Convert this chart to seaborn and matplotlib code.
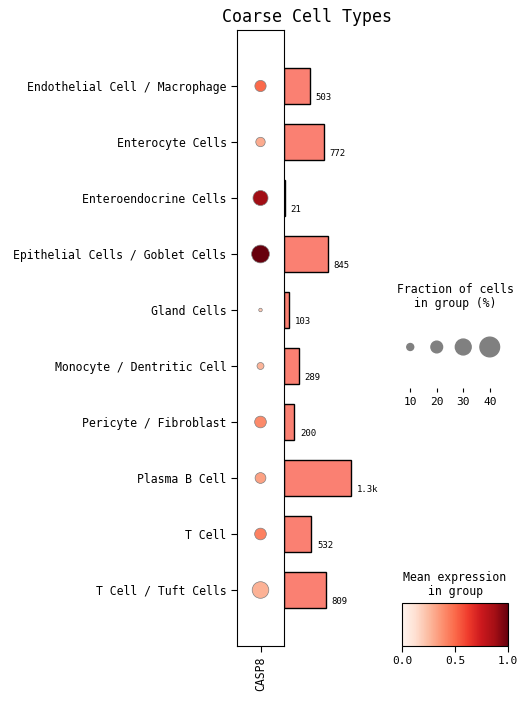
import matplotlib
matplotlib.use("Agg")
import matplotlib.pyplot as plt
import numpy as np
import pandas as pd
import seaborn as sb

# coarse cell types, CASP8 dotplot with group totals
groups = ["Endothelial Cell / Macrophage", "Enterocyte Cells", "Enteroendocrine Cells",
          "Epithelial Cells / Goblet Cells", "Gland Cells", "Monocyte / Dentritic Cell",
          "Pericyte / Fibroblast", "Plasma B Cell", "T Cell", "T Cell / Tuft Cells"]
gene = "CASP8"
frac = [0.19, 0.15, 0.28, 0.35, 0.04, 0.10, 0.20, 0.18, 0.20, 0.32]
mean_expr = [0.50, 0.30, 0.88, 1.00, 0.20, 0.27, 0.40, 0.33, 0.43, 0.28]
totals = [503, 772, 21, 845, 103, 289, 200, 1300, 532, 809]
legend_fracs = [0.10, 0.20, 0.30, 0.40]

dot_max = 0.4
largest_dot = 200

def dot_size(f):
    return (np.array(f) / dot_max) ** 1.5 * largest_dot

def fmt_total(v):
    return f"{v / 1000:.1f}k" if v >= 1000 else str(v)

sb.set_style("ticks")
plt.rcParams['font.family'] = ['DejaVu Sans Mono']
plt.rcParams['axes.edgecolor'] = 'black'
plt.rcParams['xtick.color'] = 'black'
plt.rcParams['ytick.color'] = 'black'
plt.rcParams['text.color'] = 'black'
plt.rcParams['axes.labelcolor'] = 'black'

W, H = 528, 701
fig = plt.figure(figsize=(W / 100, H / 100), dpi=100)

def box(x0, y0, x1, y1):
    return [x0 / W, 1 - y1 / H, (x1 - x0) / W, (y1 - y0) / H]

df = pd.DataFrame({"group": groups, "gene": gene, "frac": frac, "expr": mean_expr})

axb = fig.add_axes(box(284, 30, 370, 646))
ax = fig.add_axes(box(237, 30, 284, 646))

sb.scatterplot(data=df, x="gene", y="group", hue="expr", palette="Reds", hue_norm=(0, 1),
               s=dot_size(frac), edgecolor="gray", linewidth=0.5, legend=False, ax=ax)
ax.set_xlim(-0.5, 0.5)
ax.set_ylim(len(groups), -1)
ax.set_xlabel("")
ax.set_ylabel("")
ax.tick_params(axis="y", labelsize=8.3, length=4)
ax.tick_params(axis="x", labelsize=8.3, length=4, rotation=90)
ax.patch.set_alpha(0)

sb.barplot(x=totals, y=groups, orient="h", color="salmon", saturation=1,
           edgecolor="black", linewidth=1, width=0.65, ax=axb)
axb.set_xlim(0, 1300 * 86 / 67)
axb.set_ylim(len(groups), -1)
for i, v in enumerate(totals):
    axb.text(v + 110, i + 0.2, fmt_total(v), fontsize=6.5, va="center", ha="left")
axb.set_xticks([])
axb.set_yticks([])
axb.set_xlabel("")
axb.set_ylabel("")
axb.patch.set_alpha(0)
for s in axb.spines.values():
    s.set_visible(False)

fig.text(307 / W, 1 - 17 / H, "Coarse Cell Types", ha="center", va="center", fontsize=12)

# size legend
axs = fig.add_axes(box(397, 320, 503, 388))
xs = np.arange(len(legend_fracs)) + 0.5
axs.scatter(xs, np.zeros(len(xs)), s=dot_size(legend_fracs), color="gray", edgecolor="gray")
axs.set_xlim(0, len(legend_fracs))
axs.set_ylim(-0.603, 0.397)
axs.set_xticks(xs)
axs.set_xticklabels([str(int(f * 100)) for f in legend_fracs], fontsize=8)
axs.set_yticks([])
axs.tick_params(axis="x", length=3)
for s in axs.spines.values():
    s.set_visible(False)
fig.text(455 / W, 1 - 296 / H, "Fraction of cells\nin group (%)", ha="center", va="center",
         fontsize=8.3, linespacing=1.1)

# colorbar
axc = fig.add_axes(box(402, 603, 508, 646))
sm = plt.cm.ScalarMappable(cmap="Reds", norm=plt.Normalize(0, 1))
cb = fig.colorbar(sm, cax=axc, orientation="horizontal")
cb.set_ticks([0, 0.5, 1.0])
cb.ax.tick_params(labelsize=8, length=4)
cb.outline.set_edgecolor("black")
fig.text(455 / W, 1 - 584 / H, "Mean expression\nin group", ha="center", va="center",
         fontsize=8.3, linespacing=1.1)

fig.savefig("out.png", dpi=100)
